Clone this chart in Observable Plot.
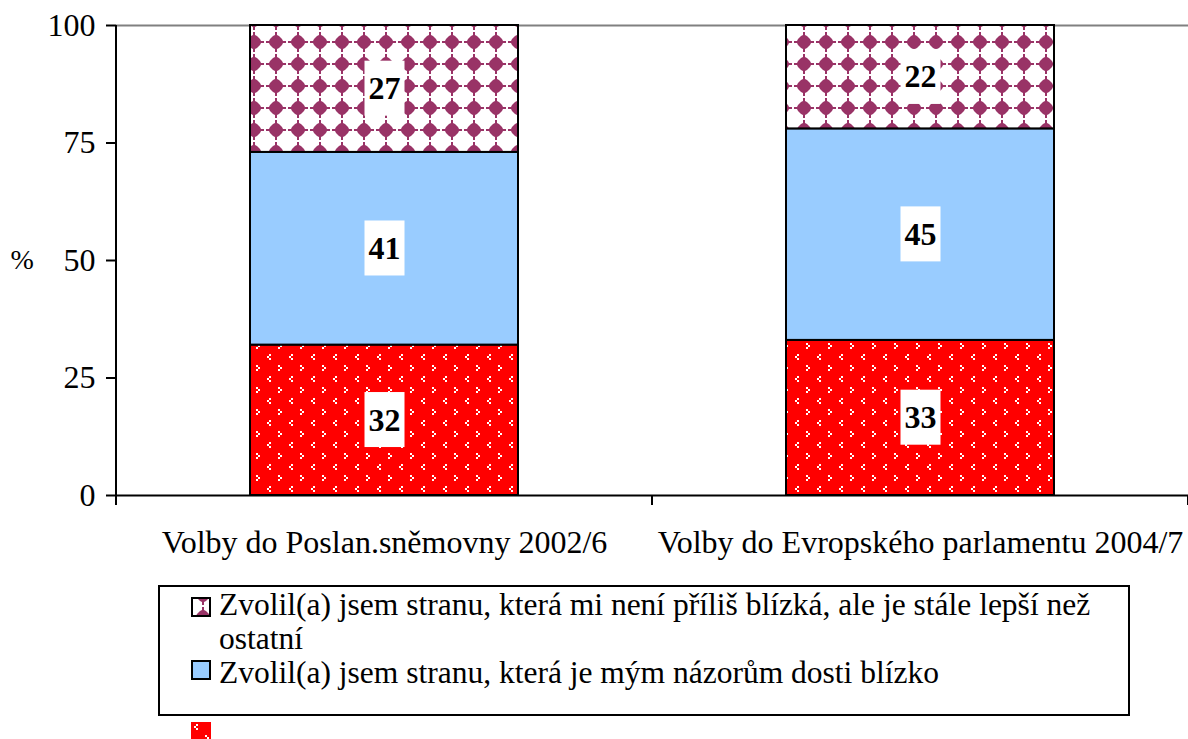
<!DOCTYPE html>
<html><head><meta charset="utf-8">
<script src="https://cdn.jsdelivr.net/npm/d3@7"></script>
<script src="https://cdn.jsdelivr.net/npm/@observablehq/plot@0.6"></script>
<style>
html,body{margin:0;padding:0;background:#fff;}
#wrap{position:relative;width:1188px;height:739px;overflow:hidden;font-family:"Liberation Serif","Times New Roman",serif;}
#legend{position:absolute;left:158px;top:585px;width:972px;height:131px;box-sizing:border-box;border:2px solid #000;background:#fff;}
.sw{position:absolute;width:20px;height:20px;display:block;}
.lt{position:absolute;font-size:31.5px;line-height:31px;white-space:nowrap;color:#000;}
</style></head><body><div id="wrap"></div>
<script>
// ---- data ----
const categories = ["Volby do Poslan.sněmovny 2002/6", "Volby do Evropského parlamentu 2004/7"];
const seriesKeys = ["nejblíže", "dosti blízko", "lepší než ostatní"];
const redValues = [32, 33];
const blueValues = [41, 45];
const purpleValues = [27, 22];
const yTicks = [0, 25, 50, 75, 100];
const legendLine1 = "Zvolil(a) jsem stranu, která mi není příliš blízká, ale je stále lepší než";
const legendLine2 = "ostatní";
const legendLine3 = "Zvolil(a) jsem stranu, která je mým názorům dosti blízko";

const seriesValues = [redValues, blueValues, purpleValues];
const data = [];
seriesKeys.forEach((s, i) => categories.forEach((c, j) => data.push({category: c, series: s, value: seriesValues[i][j]})));

// custom axis pieces (x ticks at band boundaries, y axis line)
function axisExtras(index, scales, values, dims) {
  const x = scales.x;
  const c0 = x(categories[0]), c1 = x(categories[1]);
  const step = c1 - c0;
  const bw = x.bandwidth ? x.bandwidth() : step / 2;
  const gap = step - bw;
  const bounds = [c0 - gap / 2, c0 + bw + gap / 2, c1 + bw + gap / 2];
  const y0 = dims.height - dims.marginBottom;
  const g = d3.create("svg:g");
  g.selectAll("line.t").data(bounds).join("line")
    .attr("x1", d => d).attr("x2", d => d).attr("y1", y0).attr("y2", y0 + 10)
    .attr("stroke", "#000").attr("stroke-width", 2);
  g.append("line").attr("x1", dims.marginLeft).attr("x2", dims.marginLeft)
    .attr("y1", dims.marginTop).attr("y2", y0).attr("stroke", "#000").attr("stroke-width", 2);
  return g.node();
}

const svg = Plot.plot({
  width: 1188,
  height: 570,
  marginLeft: 116,
  marginRight: 0,
  marginTop: 25,
  marginBottom: 75,
  style: {fontFamily: "'Liberation Serif', 'Times New Roman', serif", fontSize: "32px", color: "#000", background: "#fff"},
  x: {domain: categories, paddingInner: 0.5, paddingOuter: 0.25, axis: null},
  y: {domain: [0, 100], axis: null},
  color: {domain: seriesKeys, range: ["url(#patRed)", "#99CCFF", "url(#patPurple)"]},
  marks: [
    Plot.ruleY([100], {stroke: "#808080", strokeWidth: 2}),
    Plot.barY(data, Plot.stackY({x: "category", y: "value", fill: "series", stroke: "#000", strokeWidth: 2})),
    Plot.ruleY([0], {stroke: "#000", strokeWidth: 2}),
    Plot.axisY({ticks: yTicks, tickSize: 10, tickPadding: 11, strokeWidth: 2, label: null, fontSize: 32}),
    Plot.axisX({tickSize: 0, tickPadding: 35, label: null, fontSize: 32}),
    axisExtras,
    Plot.text([50], {y: d => d, text: () => "%", frameAnchor: "left", textAnchor: "start", dx: -106, fontSize: 28}),
    Plot.text(data, Plot.stackY({x: "category", y: "value", text: d => String(d.value), fontWeight: "bold", fontSize: 32, fill: "#000"}))
  ]
});

// patterns
const ns = "http://www.w3.org/2000/svg";
const defs = d3.select(svg).insert("defs", ":first-child");
const pp = defs.append("pattern").attr("id", "patPurple").attr("patternUnits", "userSpaceOnUse")
  .attr("width", 22).attr("height", 22).attr("patternTransform", "translate(1,9)");
pp.append("rect").attr("width", 22).attr("height", 22).attr("fill", "#fff");
pp.append("path").attr("d", "M11,3.5L14,5L17,8L18.5,11L17,14L14,17L11,18.5L8,17L5,14L3.5,11L5,8L8,5Z").attr("fill", "#993366");
pp.append("rect").attr("x", 1).attr("y", 10).attr("width", 20).attr("height", 2).attr("fill", "#993366");
pp.append("rect").attr("x", 10).attr("y", 1).attr("width", 2).attr("height", 20).attr("fill", "#993366");
const pr = defs.append("pattern").attr("id", "patRed").attr("patternUnits", "userSpaceOnUse")
  .attr("width", 22).attr("height", 22).attr("patternTransform", "translate(3,2)");
pr.append("rect").attr("width", 22).attr("height", 22).attr("fill", "#FF0000");
[[2, 0], [0, 2], [2, 4], [11, 11], [13, 13], [11, 15]].forEach(([px, py]) =>
  pr.append("rect").attr("x", px).attr("y", py).attr("width", 2).attr("height", 2).attr("fill", "#fff"));

const wrap = document.getElementById("wrap");
wrap.appendChild(svg);
svg.style.position = "absolute"; svg.style.left = "0"; svg.style.top = "0";

// white boxes behind value labels
svg.querySelectorAll('g[aria-label="text"] text').forEach(t => {
  if (!/^\d+$/.test(t.textContent.trim())) return;
  const b = t.getBBox();
  const w = b.width + 8, h = 55;
  const r = document.createElementNS(ns, "rect");
  r.setAttribute("x", b.x + b.width / 2 - w / 2);
  r.setAttribute("y", b.y + b.height / 2 - h / 2);
  r.setAttribute("width", w);
  r.setAttribute("height", h);
  r.setAttribute("fill", "#fff");
  if (t.getAttribute("transform")) r.setAttribute("transform", t.getAttribute("transform"));
  t.parentNode.insertBefore(r, t);
});

// legend
function swatch(fill, left, top, border, parent) {
  const s = document.createElementNS(ns, "svg");
  s.setAttribute("class", "sw");
  s.setAttribute("width", 20); s.setAttribute("height", 20);
  s.style.left = left + "px"; s.style.top = top + "px";
  const r = document.createElementNS(ns, "rect");
  r.setAttribute("x", border ? 1 : 0); r.setAttribute("y", border ? 1 : 0);
  r.setAttribute("width", border ? 18 : 20); r.setAttribute("height", border ? 18 : 20);
  r.setAttribute("fill", fill);
  if (border) { r.setAttribute("stroke", "#000"); r.setAttribute("stroke-width", 2); }
  s.appendChild(r);
  parent.appendChild(s);
}
const legend = document.createElement("div");
legend.id = "legend";
wrap.appendChild(legend);
swatch("url(#patPurple)", 31, 10, true, legend);
swatch("#99CCFF", 31, 73, true, legend);
[[legendLine1, 2], [legendLine2, 36], [legendLine3, 70]].forEach(([txt, top]) => {
  const d = document.createElement("div");
  d.className = "lt"; d.textContent = txt;
  d.style.left = "59px"; d.style.top = top + "px";
  legend.appendChild(d);
});
swatch("url(#patRed)", 191, 722, false, wrap);
</script></body></html>
